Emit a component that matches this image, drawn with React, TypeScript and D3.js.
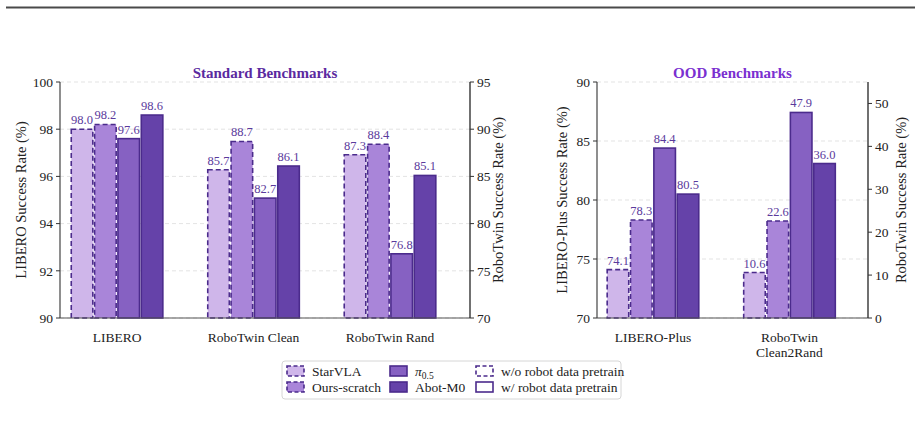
import React from "react";
import * as d3 from "d3";

// series
const methods = ["StarVLA", "Ours-scratch", "π0.5", "Abot-M0"];
const colors = ["#cfb6ea", "#a985d9", "#8661c2", "#6542a9"];
const dashed = [true, true, false, false];
const edge = "#4b2b8c";

// standard panel
const stdCats = ["LIBERO", "RoboTwin Clean", "RoboTwin Rand"];
const stdAxis = ["left", "right", "right"];
const stdValues = [
  [98.0, 98.2, 97.6, 98.6],
  [85.7, 88.7, 82.7, 86.1],
  [87.3, 88.4, 76.8, 85.1],
];
const stdLeftTicks = [90, 92, 94, 96, 98, 100];
const stdRightTicks = [70, 75, 80, 85, 90, 95];

// ood panel
const oodCats = [["LIBERO-Plus"], ["RoboTwin", "Clean2Rand"]];
const oodAxis = ["left", "right"];
const oodValues = [
  [74.1, 78.3, 84.4, 80.5],
  [10.6, 22.6, 47.9, 36.0],
];
const oodLeftTicks = [70, 75, 80, 85, 90];
const oodRightTicks = [0, 10, 20, 30, 40, 50];

const labelColor = "#5a3a9c";

type PanelProps = {
  x0: number;
  x1: number;
  xDomain: [number, number];
  title: string;
  titleColor: string;
  cats: string[][];
  axisOf: string[];
  values: number[][];
  leftDomain: [number, number];
  rightDomain: [number, number];
  leftTicks: number[];
  rightTicks: number[];
  leftLabel: string;
  rightLabel: string;
  leftLabelX: number;
  rightLabelX: number;
};

const top = 82;
const bottom = 318;

function Panel(p: PanelProps) {
  const x = d3.scaleLinear().domain(p.xDomain).range([p.x0, p.x1]);
  const yL = d3.scaleLinear().domain(p.leftDomain).range([bottom, top]);
  const yR = d3.scaleLinear().domain(p.rightDomain).range([bottom, top]);
  const step = 0.171;
  const w = 0.158;
  const offsets = [-1.5, -0.5, 0.5, 1.5];
  const midY = (top + bottom) / 2;

  return (
    <g>
      <text x={(p.x0 + p.x1) / 2} y={top - 4} textAnchor="middle"
        fontWeight="bold" fontSize={15} fill={p.titleColor}>{p.title}</text>
      {p.leftTicks.map((t) => (
        <line key={"g" + t} x1={p.x0} x2={p.x1} y1={yL(t)} y2={yL(t)}
          stroke="#dcdcdc" strokeWidth={0.8} strokeDasharray="4,3" />
      ))}
      {p.values.map((vals, ci) => {
        const y = p.axisOf[ci] === "left" ? yL : yR;
        return vals.map((v, mi) => {
          const cx = ci + offsets[mi] * step;
          const bx = x(cx - w / 2);
          const bw = x(cx + w / 2) - bx;
          const by = y(v);
          return (
            <g key={ci + "-" + mi}>
              <rect x={bx} y={by} width={bw} height={bottom - by} fill={colors[mi]}
                stroke={edge} strokeWidth={1.6}
                strokeDasharray={dashed[mi] ? "5,3" : undefined} />
              <text x={x(cx)} y={by - 5} textAnchor="middle"
                fontSize={12.5} fill={labelColor}>{v.toFixed(1)}</text>
            </g>
          );
        });
      })}
      {/* spines */}
      <line x1={p.x0} x2={p.x1} y1={bottom} y2={bottom} stroke="#555" strokeWidth={1.2} />
      <line x1={p.x0} x2={p.x0} y1={top} y2={bottom} stroke="#444" strokeWidth={1.2} />
      <line x1={p.x1} x2={p.x1} y1={top} y2={bottom} stroke="#111" strokeWidth={1.2} />
      {p.leftTicks.map((t) => (
        <g key={"l" + t}>
          <line x1={p.x0 - 4} x2={p.x0} y1={yL(t)} y2={yL(t)} stroke="#333" />
          <text x={p.x0 - 7} y={yL(t)} dy="0.35em" textAnchor="end"
            fontSize={13.5} fill="#222">{t}</text>
        </g>
      ))}
      {p.rightTicks.map((t) => (
        <g key={"r" + t}>
          <line x1={p.x1} x2={p.x1 + 4} y1={yR(t)} y2={yR(t)} stroke="#333" />
          <text x={p.x1 + 7} y={yR(t)} dy="0.35em" textAnchor="start"
            fontSize={13.5} fill="#222">{t}</text>
        </g>
      ))}
      {p.cats.map((lines, ci) => (
        <text key={"c" + ci} x={x(ci)} y={bottom + 24} textAnchor="middle"
          fontSize={13.5} fill="#222">
          {lines.map((s, li) => (
            <tspan key={li} x={x(ci)} dy={li === 0 ? 0 : 15}>{s}</tspan>
          ))}
        </text>
      ))}
      <text transform={`translate(${p.leftLabelX},${midY}) rotate(-90)`} textAnchor="middle"
        fontSize={14.5} fill="#222">{p.leftLabel}</text>
      <text transform={`translate(${p.rightLabelX},${midY}) rotate(-90)`} textAnchor="middle"
        fontSize={14.5} fill="#222">{p.rightLabel}</text>
    </g>
  );
}

function Legend() {
  const lx = 282, ly = 361;
  const cols = [287, 390, 476];
  const rows = [371, 387];
  const items = [
    { col: 0, row: 0, fill: colors[0], dash: true, label: methods[0] },
    { col: 0, row: 1, fill: colors[1], dash: true, label: methods[1] },
    { col: 1, row: 0, fill: colors[2], dash: false, label: methods[2] },
    { col: 1, row: 1, fill: colors[3], dash: false, label: methods[3] },
    { col: 2, row: 0, fill: "#fff", dash: true, label: "w/o robot data pretrain" },
    { col: 2, row: 1, fill: "#fff", dash: false, label: "w/ robot data pretrain" },
  ];
  return (
    <g>
      <rect x={lx} y={ly} width={339} height={38} rx={3} fill="#fff" stroke="#d6d6d6" />
      {items.map((it, i) => {
        const px = cols[it.col];
        const py = rows[it.row];
        return (
          <g key={i}>
            <rect x={px} y={py - 5} width={17} height={10} fill={it.fill} stroke={edge}
              strokeWidth={1.6} strokeDasharray={it.dash ? "4,2.5" : undefined} />
            {it.label === "π0.5" ? (
              <text x={px + 25} y={py} dy="0.35em" fontSize={13.5} fill="#222">
                <tspan fontStyle="italic">π</tspan>
                <tspan fontSize={9.5} dy={3}>0.5</tspan>
              </text>
            ) : (
              <text x={px + 25} y={py} dy="0.35em" fontSize={13.5} fill="#222">
                {it.label}
              </text>
            )}
          </g>
        );
      })}
    </g>
  );
}

export default function App() {
  return (
    <svg width={921} height={431}
      style={{ position: "absolute", left: 0, top: 0, background: "#fff",
        fontFamily: "\"Liberation Serif\", \"Times New Roman\", \"DejaVu Serif\", serif" }}>
      <line x1={6} x2={915} y1={7.5} y2={7.5} stroke="#4a4a4a" strokeWidth={2} />
      <Panel x0={60} x1={470} xDomain={[-0.418, 2.586]} title="Standard Benchmarks"
        titleColor="#5b2a9f" cats={stdCats.map((c) => [c])} axisOf={stdAxis} values={stdValues}
        leftDomain={[90, 100]} rightDomain={[70, 95]} leftTicks={stdLeftTicks}
        rightTicks={stdRightTicks} leftLabel="LIBERO Success Rate (%)"
        rightLabel="RoboTwin Success Rate (%)" leftLabelX={26} rightLabelX={503} />
      <Panel x0={597} x1={868} xDomain={[-0.41, 1.575]} title="OOD Benchmarks"
        titleColor="#7a30d0" cats={oodCats} axisOf={oodAxis} values={oodValues}
        leftDomain={[70, 90]} rightDomain={[0, 55]} leftTicks={oodLeftTicks}
        rightTicks={oodRightTicks} leftLabel="LIBERO-Plus Success Rate (%)"
        rightLabel="RoboTwin Success Rate (%)" leftLabelX={567} rightLabelX={906} />
      <Legend />
    </svg>
  );
}
